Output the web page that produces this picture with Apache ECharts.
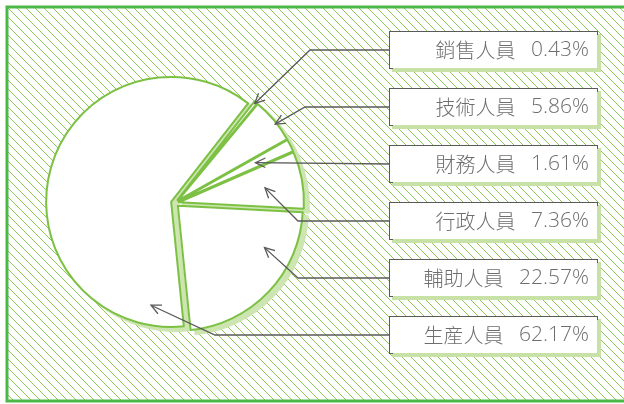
<!DOCTYPE html>
<html>
<head>
<meta charset="utf-8">
<script src="https://cdn.jsdelivr.net/npm/echarts@6/dist/echarts.min.js"></script>
<style>
html,body{margin:0;padding:0;background:#fff;}
#main{width:624px;height:404px;}
</style>
</head>
<body>
<div id="main"></div>
<script>
// ---- data ----
var categories = ['銷售人員', '技術人員', '財務人員', '行政人員', '輔助人員', '生産人員'];
var shares = [0.43, 5.86, 1.61, 7.36, 22.57, 62.17];
var shareLabels = ['0.43%', '5.86%', '1.61%', '7.36%', '22.57%', '62.17%'];

// ---- layout (not data) ----
var pieCenter = [175, 203];
var shadowShift = [5, 4];
var pieRadius = 125;
var pieStart = 52;
var pointerT = [0.45, 0.58, 0.47, 0.53, 0.29, 0.085];   // position along slice sweep
var pointerR = [1.02, 1.02, 0.72, 0.73, 0.80, 0.84];    // fraction of radius
var elbowX = [310, 305, null, 298, 298, 215];
var boxLeft = 390, boxRight = 597, labelY0 = 50, labelStep = 57;

var GREEN = '#7dc144', LIGHT = '#cde5b0', LINE = '#5a5a5a', TEXT = '#6e6e6e';

// hatch pattern
var sp = 9;
var pc = document.createElement('canvas');
pc.width = sp; pc.height = sp;
var g = pc.getContext('2d');
g.strokeStyle = '#8cc854';
g.lineWidth = 1;
for (var k = -1; k <= 1; k++) {
  g.beginPath();
  g.moveTo(k * sp - 1, -1);
  g.lineTo(k * sp + sp + 1, sp + 1);
  g.stroke();
}

var total = shares.reduce(function (a, b) { return a + b; }, 0);
var graphics = [{
  type: 'rect', z: -10,
  shape: { x: 7, y: 7, width: 650, height: 394 },
  style: { fill: { image: pc, repeat: 'repeat' }, stroke: '#4db848', lineWidth: 3 }
}];

var cum = 0;
for (var i = 0; i < shares.length; i++) {
  var a = (pieStart - 360 * (cum + pointerT[i] * shares[i]) / total) * Math.PI / 180;
  cum += shares[i];
  var tip = [pieCenter[0] + pieRadius * pointerR[i] * Math.cos(a),
             pieCenter[1] - pieRadius * pointerR[i] * Math.sin(a)];
  var ly = labelY0 + labelStep * i;
  var pts = [[boxLeft, ly]];
  if (elbowX[i] != null) pts.push([elbowX[i], ly]);
  pts.push(tip);
  var prev = pts[pts.length - 2];
  var ang = Math.atan2(prev[1] - tip[1], prev[0] - tip[0]);
  var L = 11, w = 0.45;
  var wing = [
    [tip[0] + L * Math.cos(ang + w), tip[1] + L * Math.sin(ang + w)],
    tip,
    [tip[0] + L * Math.cos(ang - w), tip[1] + L * Math.sin(ang - w)]
  ];
  graphics.push({ type: 'polyline', z: 100, shape: { points: pts },
    style: { stroke: LINE, lineWidth: 1.3, fill: null } });
  graphics.push({ type: 'polyline', z: 100, shape: { points: wing },
    style: { stroke: LINE, lineWidth: 1.3, fill: null } });
  graphics.push({
    type: 'text', z: 110,
    style: {
      text: '{n|' + categories[i] + '}   {v|' + shareLabels[i] + '}',
      x: boxRight, y: ly,
      align: 'right', verticalAlign: 'middle',
      fontSize: 20, fontFamily: 'Open Sans', fontWeight: 300, fill: TEXT,
      backgroundColor: '#fff',
      borderColor: LINE, borderWidth: 1,
      shadowColor: '#c7e1a7', shadowBlur: 0, shadowOffsetX: 3, shadowOffsetY: 3,
      padding: [8, 8, 8, 8],
      width: 191, height: 20, lineHeight: 20,
      rich: {
        n: { fontSize: 20, fill: TEXT, fontFamily: 'Noto Sans CJK TC', fontWeight: 300, lineHeight: 20 },
        v: { fontSize: 21, fill: TEXT, fontFamily: 'Open Sans', fontWeight: 300, lineHeight: 20 }
      }
    }
  });
}

function pieSeries(center, style, z) {
  return {
    type: 'pie',
    z: z,
    center: center,
    radius: pieRadius,
    startAngle: pieStart,
    clockwise: true,
    selectedMode: 'multiple',
    selectedOffset: 4,
    avoidLabelOverlap: false,
    emphasis: { disabled: true },
    silent: true,
    itemStyle: style,
    label: { show: false },
    labelLine: { show: false },
    data: categories.map(function (c, i) { return { name: c, value: shares[i], selected: true }; })
  };
}

var chart = echarts.init(document.getElementById('main'), null, { renderer: 'canvas' });
chart.setOption({
  animation: false,
  backgroundColor: '#fff',
  graphic: graphics,
  series: [
    pieSeries([pieCenter[0] + shadowShift[0], pieCenter[1] + shadowShift[1]],
      { color: LIGHT, borderColor: LIGHT, borderWidth: 2 }, 1),
    pieSeries(pieCenter, { color: '#ffffff', borderColor: GREEN, borderWidth: 2 }, 2)
  ]
});
</script>
</body>
</html>
